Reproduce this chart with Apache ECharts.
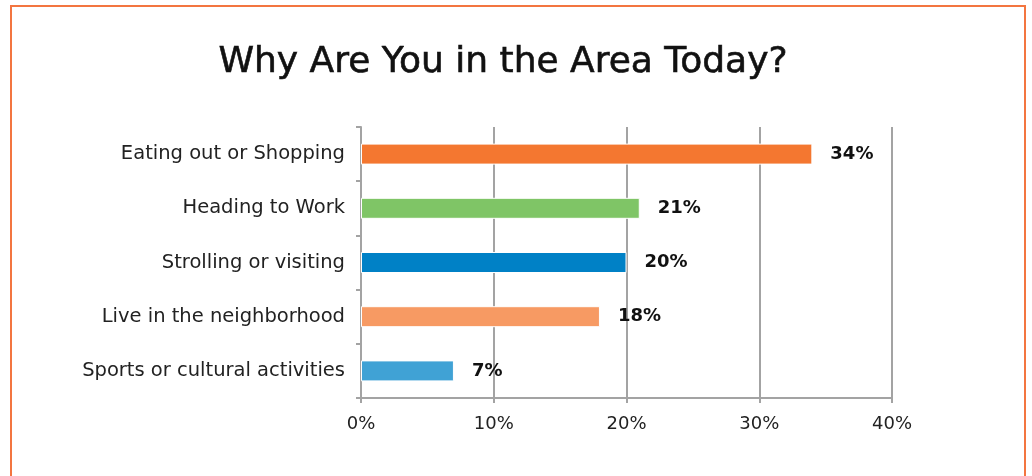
<!DOCTYPE html>
<html>
<head>
<meta charset="utf-8">
<script src="https://cdn.jsdelivr.net/npm/echarts@6/dist/echarts.min.js"></script>
<style>
  html, body { margin: 0; padding: 0; background: #fff; overflow: hidden; }
  #frame { position: absolute; left: 10px; top: 5px; width: 1016px; height: 520px; border: 2px solid #F37540; box-sizing: border-box; }
  #chart { position: absolute; left: 0; top: 0; width: 1032px; height: 476px; }
</style>
</head>
<body>
<div id="frame"></div>
<div id="chart"></div>
<script>
// Survey responses: reasons for being in the area
const categories = [
  'Eating out or Shopping',
  'Heading to Work',
  'Strolling or visiting',
  'Live in the neighborhood',
  'Sports or cultural activities'
];
const shares = [34, 21, 20, 18, 7];
const barColors = ['#F47730', '#7FC566', '#0081C6', '#F79A63', '#40A2D5'];
const axisTicks = [0, 10, 20, 30, 40];

const chart = echarts.init(document.getElementById('chart'), null, { renderer: 'canvas' });
const fontFamily = '"DejaVu Sans", "Noto Sans", sans-serif';
const gridGray = '#A3A3A3';

chart.setOption({
  backgroundColor: 'transparent',
  animation: false,
  title: {
    text: 'Why Are You in the Area Today?',
    left: 498,
    textAlign: 'center',
    top: 40,
    textStyle: { fontFamily, fontSize: 36, fontWeight: 'normal', color: '#111', textBorderColor: '#111', textBorderWidth: 0.6 }
  },
  grid: { left: 361, right: 140, top: 127, bottom: 78, containLabel: false },
  xAxis: {
    type: 'value',
    min: axisTicks[0],
    max: axisTicks[axisTicks.length - 1],
    interval: axisTicks[1] - axisTicks[0],
    axisLine: { show: true, lineStyle: { color: gridGray, width: 2 } },
    axisTick: { show: true, length: 5, lineStyle: { color: gridGray, width: 2 } },
    splitLine: { show: true, lineStyle: { color: gridGray, width: 2 } },
    axisLabel: {
      formatter: '{value}%',
      margin: 17,
      fontFamily, fontSize: 18, color: '#222'
    }
  },
  yAxis: {
    type: 'category',
    inverse: true,
    data: categories,
    axisLine: { show: true, lineStyle: { color: gridGray, width: 2 } },
    axisTick: { show: true, length: 5, lineStyle: { color: gridGray, width: 2 } },
    axisLabel: { margin: 16, fontFamily, fontSize: 19.5, color: '#222', padding: [4, 0, 0, 0] }
  },
  series: [{
    type: 'bar',
    data: shares.map((v, i) => ({ value: v, itemStyle: { color: barColors[i] } })),
    barWidth: 21,
    itemStyle: { borderColor: '#fff', borderWidth: 1 },
    label: {
      show: true,
      position: 'right',
      distance: 18,
      formatter: '{c}%',
      padding: [3, 0, 0, 0],
      fontFamily, fontSize: 18, fontWeight: 'bold', color: '#111'
    }
  }]
});
</script>
</body>
</html>
